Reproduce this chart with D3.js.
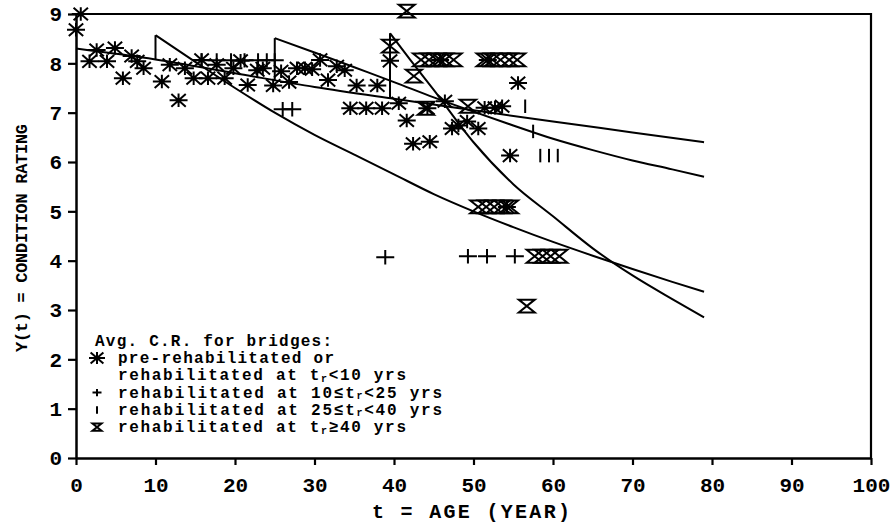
<!DOCTYPE html>
<html>
<head>
<meta charset="utf-8">
<title>Condition rating vs age</title>
<style>
    body { margin: 0; background: #fff; }
    svg { display: block; background: #fff; }
    text { font-family: "Liberation Mono", "DejaVu Sans Mono", monospace; font-weight: bold; fill: #000; }
</style>
<script src="https://d3js.org/d3.v7.min.js"></script>
</head>
<body>
<svg id="chart" width="896" height="527"></svg>
<script>
    // tick values
    const ageTicks = d3.range(0, 101, 10);
    const ratingTicks = d3.range(0, 10);

    // fitted curve without rehabilitation
    const baseAge = [0, 10, 20, 30, 40, 50, 60, 70, 79];
    const baseRating = [8.3, 8.08, 7.8, 7.52, 7.28, 7.05, 6.82, 6.6, 6.4];

    // curves after a rehabilitation (jump then decay)
    const rehab10Age = [10, 15, 20, 25, 30, 35, 40, 45, 50, 55, 60, 65, 70, 75, 79];
    const rehab10Rating = [8.57, 8.03, 7.5, 7.0, 6.55, 6.15, 5.75, 5.35, 5.0, 4.68, 4.38, 4.1, 3.83, 3.57, 3.37];
    const rehab25Age = [25, 30, 35, 40, 45, 50, 55, 60, 65, 70, 75, 79];
    const rehab25Rating = [8.51, 8.22, 7.92, 7.62, 7.31, 7.02, 6.74, 6.47, 6.24, 6.03, 5.85, 5.7];
    const rehab40Age = [39.5, 42, 45, 50, 55, 60, 65, 70, 75, 79];
    const rehab40Rating = [8.61, 8.08, 7.46, 6.4, 5.55, 4.9, 4.25, 3.7, 3.22, 2.85];

    // observed averages [age, rating]
    const preRehabPts = [
        [0, 8.68], [0.6, 9.0], [1.7, 8.04], [2.6, 8.27], [3.9, 8.04], [4.9, 8.31], [5.9, 7.7], [7, 8.15],
        [7.7, 8.04], [8.5, 7.9], [10.8, 7.63], [11.8, 7.97], [12.9, 7.25], [13.7, 7.9], [14.8, 7.7],
        [15.8, 8.07], [16.6, 7.7], [17.7, 7.97], [18.7, 7.7], [19.8, 7.9], [20.7, 8.05], [21.6, 7.56],
        [22.8, 7.86], [23.5, 7.9], [24.8, 7.55], [25.8, 7.84], [26.8, 7.62], [27.8, 7.9], [28.8, 7.9],
        [29.7, 7.88], [30.7, 8.07], [31.7, 7.66], [32.8, 7.94], [33.8, 7.86], [35.3, 7.55], [37.9, 7.55],
        [34.5, 7.09], [36.5, 7.09], [38.5, 7.09], [39.5, 8.05], [40.6, 7.19], [41.6, 6.84], [42.4, 6.37],
        [44.5, 6.41], [44.2, 7.09], [46.4, 7.23], [45.8, 8.07], [47.3, 6.68], [48.1, 6.74], [49.2, 6.82],
        [50.6, 6.68], [51.4, 7.1], [52.7, 7.1], [53.6, 7.13], [51.8, 8.07], [54.2, 5.09], [55.6, 7.6],
        [54.6, 6.13]
    ];
    const rehab10Pts = [
        [15.8, 8.06], [17.7, 8.06], [19.5, 8.06], [21.2, 8.06], [22.9, 8.06], [24, 8.06], [25, 8.06],
        [26, 7.07], [27.2, 7.07], [38.9, 4.07], [49.3, 4.09], [51.7, 4.09], [55.2, 4.09]
    ];
    const rehab25Pts = [[56.5, 7.13], [57.5, 6.62], [58.4, 6.13], [59.5, 6.13], [60.6, 6.13]];
    const rehab40Pts = [
        [41.6, 9.06], [39.5, 8.35], [42.5, 7.74],
        [43.4, 8.07], [44.4, 8.07], [45.4, 8.07], [46.4, 8.07], [47.5, 8.07],
        [51.4, 8.07], [52.4, 8.07], [53.4, 8.07], [54.5, 8.07], [55.5, 8.07],
        [44, 7.09], [49.3, 7.13],
        [50.6, 5.09], [51.6, 5.09], [52.6, 5.09], [53.6, 5.09], [54.6, 5.09],
        [57.7, 4.09], [58.7, 4.09], [59.7, 4.09], [60.8, 4.09],
        [56.7, 3.08]
    ];

    const svg = d3.select("#chart");
    const x = d3.scaleLinear().domain([0, 100]).range([76, 871]);
    const y = d3.scaleLinear().domain([0, 9]).range([458, 14]);

    // marker shapes
    const shapes = {
        star: r => `M${-r},0H${r}M0,${-r * 0.75}V${r * 0.75}M${-r * 0.8},${-r * 0.7}L${r * 0.8},${r * 0.7}M${-r * 0.8},${r * 0.7}L${r * 0.8},${-r * 0.7}`,
        plus: r => `M${-r},0H${r}M0,${-r * 0.8}V${r * 0.8}`,
        bar: r => `M0,${-r * 0.75}V${r * 0.75}`,
        glass: r => `M${-r},${-r * 0.8}H${r}L${-r},${r * 0.8}H${r}Z`
    };

    // frame (top and right)
    svg.append("path")
        .attr("d", `M${x(0)},${y(9)}H${x(100)}V${y(0)}`)
        .attr("fill", "none")
        .attr("stroke", "#000")
        .attr("stroke-width", 2.2);

    // axes
    const xAxis = svg.append("g")
        .attr("transform", `translate(0,${y(0)})`)
        .call(d3.axisBottom(x).tickValues(ageTicks).tickSize(7).tickSizeOuter(0).tickPadding(10));
    const yAxis = svg.append("g")
        .attr("transform", `translate(${x(0)},0)`)
        .call(d3.axisLeft(y).tickValues(ratingTicks).tickSize(8).tickSizeOuter(0).tickPadding(6));

    [xAxis, yAxis].forEach(g => {
        g.attr("font-family", null).attr("font-size", null);
        g.select(".domain").attr("stroke-width", 2.5);
        g.selectAll(".tick line").attr("stroke-width", 2.2);
        g.selectAll(".tick text").style("font-size", "21px");
    });
    xAxis.selectAll(".tick text").attr("dy", "0.8em");

    // axis titles
    svg.append("text")
        .attr("x", 471)
        .attr("y", 518)
        .attr("text-anchor", "middle")
        .attr("textLength", 198)
        .style("font-size", "20px")
        .text("t = AGE (YEAR)");

    svg.append("text")
        .attr("transform", "translate(27,238) rotate(-90)")
        .attr("text-anchor", "middle")
        .attr("textLength", 228)
        .style("font-size", "17px")
        .text("Y(t) = CONDITION RATING");

    // curves
    const line = d3.line()
        .x(d => x(d[0]))
        .y(d => y(d[1]))
        .curve(d3.curveMonotoneX);
    const baseAt = d3.scaleLinear().domain(baseAge).range(baseRating);

    const curves = [
        d3.zip(baseAge, baseRating),
        d3.zip(rehab10Age, rehab10Rating),
        d3.zip(rehab25Age, rehab25Rating),
        d3.zip(rehab40Age, rehab40Rating)
    ];

    svg.append("g")
        .selectAll("path")
        .data(curves)
        .join("path")
        .attr("d", line)
        .attr("fill", "none")
        .attr("stroke", "#000")
        .attr("stroke-width", 2);

    // vertical jumps at rehabilitation
    svg.append("g")
        .selectAll("line")
        .data(curves.slice(1))
        .join("line")
        .attr("x1", d => x(d[0][0]))
        .attr("x2", d => x(d[0][0]))
        .attr("y1", d => y(baseAt(d[0][0])))
        .attr("y2", d => y(d[0][1]))
        .attr("stroke", "#000")
        .attr("stroke-width", 2);

    // observed points
    const groups = [
        {pts: preRehabPts, shape: "star", r: 9},
        {pts: rehab10Pts, shape: "plus", r: 9},
        {pts: rehab25Pts, shape: "bar", r: 9},
        {pts: rehab40Pts, shape: "glass", r: 8}
    ];

    groups.forEach(gr => {
        svg.append("g")
            .selectAll("path")
            .data(gr.pts)
            .join("path")
            .attr("transform", d => `translate(${x(d[0])},${y(d[1])})`)
            .attr("d", shapes[gr.shape](gr.r))
            .attr("fill", "none")
            .attr("stroke", "#000")
            .attr("stroke-width", 2);
    });

    // legend
    const legend = svg.append("g").style("font-size", "16px");
    legend.append("text")
        .attr("x", 95).attr("y", 346)
        .attr("textLength", 237)
        .text("Avg. C.R. for bridges:");

    const legendRows = [
        {shape: "star", r: 8, w: 216, parts: ["pre-rehabilitated or"]},
        {shape: null, w: 288, parts: ["rehabilitated at t", "r", "<10 yrs"]},
        {shape: "plus", r: 4.5, w: 324, parts: ["rehabilitated at 10≤t", "r", "<25 yrs"]},
        {shape: "bar", r: 5, w: 324, parts: ["rehabilitated at 25≤t", "r", "<40 yrs"]},
        {shape: "glass", r: 4.5, w: 288, parts: ["rehabilitated at t", "r", "≥40 yrs"]}
    ];

    legendRows.forEach((row, i) => {
        const cy = 358 + i * 17.3;
        if (row.shape) {
            legend.append("path")
                .attr("transform", `translate(97,${cy})`)
                .attr("d", shapes[row.shape](row.r))
                .attr("fill", "none")
                .attr("stroke", "#000")
                .attr("stroke-width", 2);
        }
        const t = legend.append("text")
            .attr("x", 118).attr("y", cy + 5)
            .attr("textLength", row.w);
        t.append("tspan").text(row.parts[0]);
        if (row.parts.length > 1) {
            t.append("tspan").attr("dy", 1.5).style("font-size", "10px").text(row.parts[1]);
            t.append("tspan").attr("dy", -1.5).text(row.parts[2]);
        }
    });
</script>
</body>
</html>
